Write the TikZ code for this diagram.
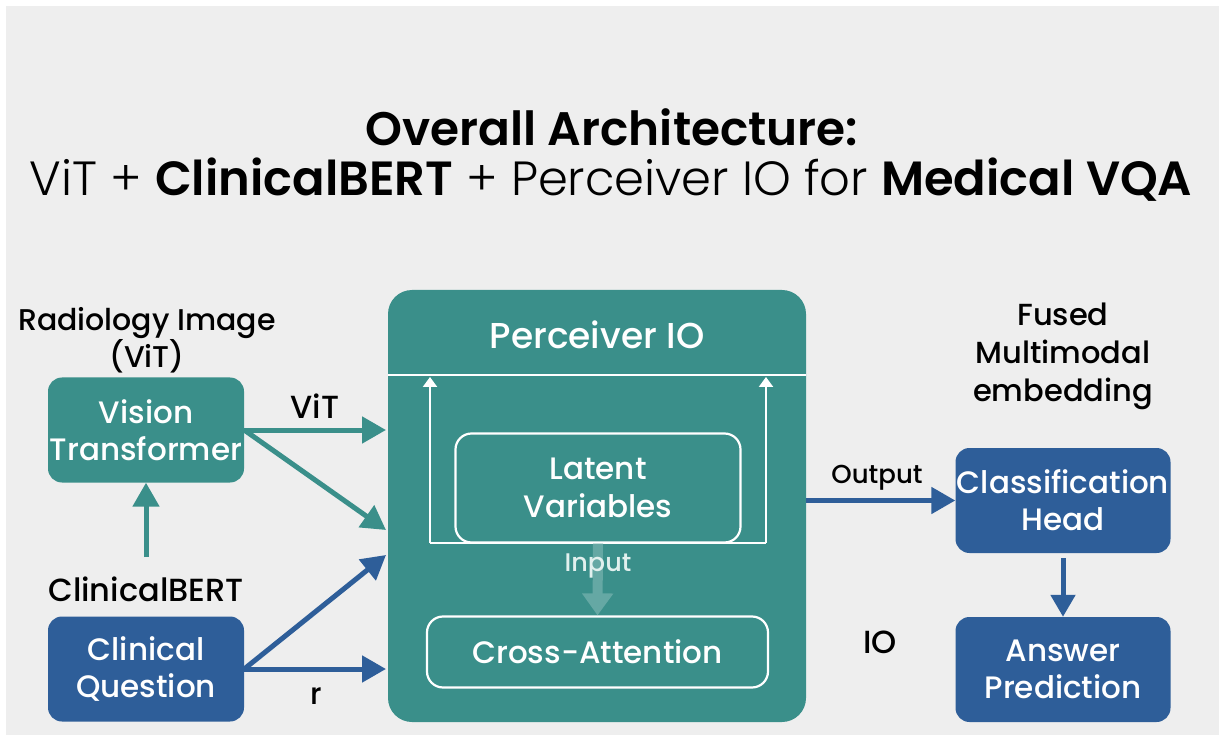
\documentclass[tikz,border=0pt]{standalone}
\usepackage{fontspec}
\setmainfont{Poppins}[UprightFont={* Medium}, BoldFont={* SemiBold}]
\newfontfamily\lightfont{Poppins}[UprightFont={* Light}, BoldFont={* SemiBold}]
\usetikzlibrary{arrows.meta,calc}
\definecolor{bgc}{RGB}{238,238,238}
\definecolor{tealc}{RGB}{58,143,138}
\definecolor{bluec}{RGB}{46,94,153}
\definecolor{inputc}{RGB}{225,240,238}
\tikzset{
  box/.style={rounded corners=14pt, minimum width=196pt, minimum height=105pt, align=center, text=white, font=\fontsize{31}{37}\selectfont, inner sep=0pt},
  tealbox/.style={box, fill=tealc},
  bluebox/.style={box, fill=bluec, minimum width=215pt},
  inbox/.style={rounded corners=16pt, draw=white, line width=2.2pt, align=center, text=white, font=\fontsize{31}{38}\selectfont, inner sep=0pt},
  lbl/.style={text=black, align=center, font=\fontsize{30}{36}\selectfont, inner sep=0pt},
  conn/.style={line width=5pt, -{Triangle[length=24pt,width=26pt]}},
  frameline/.style={white, line width=2.2pt},
  fr/.style={frameline, -{Triangle[length=10pt,width=14pt]}},
}
\begin{document}
\begin{tikzpicture}[x=1pt,y=-1pt]
\useasboundingbox (0,0) rectangle (1219,735);
\fill[white] (0,0) rectangle (1219,735);
\fill[bgc] (6,6) rectangle (1219,735);
% title
\node[inner sep=0pt, font=\fontsize{47}{52}\selectfont\bfseries] (t1) at (612,127) {Overall Architecture:};
\node[inner sep=0pt, font=\fontsize{48}{54}\selectfont\lightfont] (t2) at (611,180) {ViT + {\bfseries ClinicalBERT} + Perceiver IO for {\bfseries Medical VQA}};
% Perceiver IO box
\node[rounded corners=24pt, fill=tealc, minimum width=418pt, minimum height=432pt, inner sep=0pt] (pio) at (597,506) {};
\node[text=white, inner sep=0pt, font=\fontsize{36}{40}\selectfont] (piot) at (597,335) {Perceiver IO};
\coordinate (hl) at (388,375);
\coordinate (hr) at (806,375);
\draw[frameline] (hl) -- (hr);
\node[inbox, fill=tealc, minimum width=285pt, minimum height=109pt] (lat) at (598,488) {Latent\\Variables};
\coordinate (fbl) at (430,543);
\coordinate (fbr) at (766,543);
\coordinate (ftl) at (430,377);
\coordinate (ftr) at (766,377);
\draw[fr] (fbl) -- (ftl);
\draw[fr] (fbr) -- (ftr);
\draw[frameline] (fbl) -- (fbr);
\node[inbox, minimum width=341pt, minimum height=71pt] (ca) at (597.5,652) {Cross-Attention};
\draw[tealc!78!white, line width=10pt, -{Triangle[length=22pt,width=30pt]}] (lat.south) -- (ca.north);
\node[text=inputc, inner sep=0pt, font=\fontsize{25.5}{30}\selectfont] (inp) at (598,566) {Input};
% left side
\node[lbl, font=\fontsize{30}{35}\selectfont] (radio) at (147,340) {Radiology Image\\(ViT)};
\node[tealbox] (vt) at (146,430) {Vision\\Transformer};
\node[lbl, font=\fontsize{32}{36}\selectfont] (cb) at (146,589) {ClinicalBERT};
\node[bluebox, minimum width=196pt] (cq) at (146,669) {Clinical\\Question};
\coordinate (cbt) at (146,557);
\draw[conn, tealc] (cbt) -- (vt.south);
\coordinate (a1) at (386,430);
\coordinate (a2) at (386,530);
\coordinate (a3) at (386,555);
\coordinate (a4) at (386,669);
\draw[conn, tealc] (vt.east) -- (a1);
\draw[conn, tealc] (vt.east) -- (a2);
\draw[conn, bluec] (cq.east) -- (a3);
\draw[conn, bluec] (cq.east) -- (a4);
\node[lbl, font=\fontsize{32}{36}\selectfont] (vitl) at (315,406) {ViT};
\node[lbl] (rl) at (316,696) {r};
% right side
\node[lbl, font=\fontsize{30.5}{38}\selectfont] (fused) at (1063,356) {Fused\\Multimodal\\embedding};
\node[bluebox] (ch) at (1063,500.5) {Classification\\Head};
\node[bluebox] (ap) at (1063,669.5) {Answer\\Prediction};
\draw[conn, bluec] (pio.east |- ch.west) -- (ch.west);
\node[lbl, font=\fontsize{26}{30}\selectfont] (outl) at (877,478) {Output};
\draw[conn, bluec, -{Triangle[length=22pt,width=24pt]}] (ch.south) ++(0,5) -- (ap.north);
\node[lbl, font=\fontsize{32}{36}\selectfont] (io) at (880,642) {IO};
\end{tikzpicture}
\end{document}
